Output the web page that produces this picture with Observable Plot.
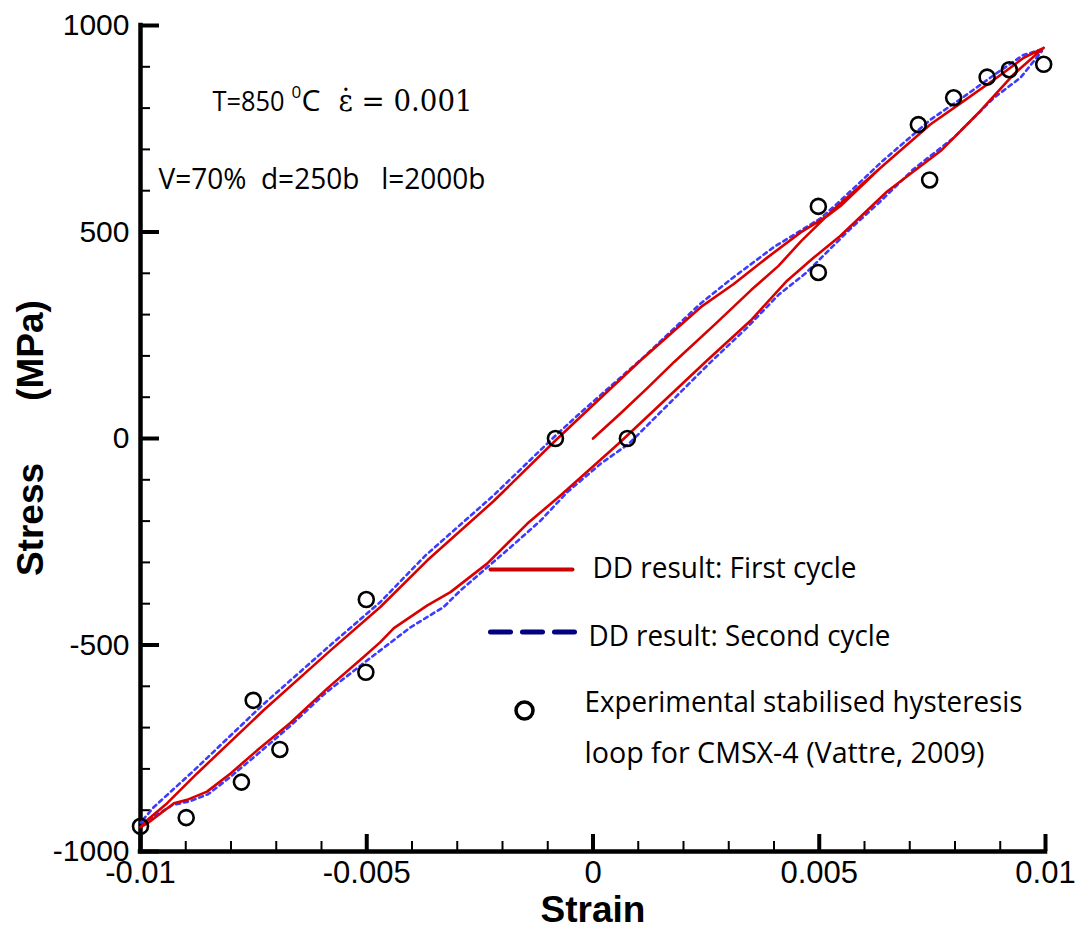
<!DOCTYPE html>
<html>
<head>
<meta charset="utf-8">
<script src="https://cdn.jsdelivr.net/npm/d3@7"></script>
<script src="https://cdn.jsdelivr.net/npm/@observablehq/plot@0.6"></script>
<style>
  html, body { margin: 0; padding: 0; background: #ffffff; }
</style>
</head>
<body>
<div id="chart"></div>
<script>
// ---------- ticks ----------
const xMajor = [-0.01, -0.005, 0, 0.005, 0.01];
const xTickLabels = ["-0.01", "-0.005", "0", "0.005", "0.01"];
const yMajor = [-1000, -500, 0, 500, 1000];
const yTickLabels = ["-1000", "-500", "0", "500", "1000"];
const xMinor = d3.range(-10, 11).map(i => i / 1000);
const yMinor = d3.range(-1000, 1001, 100);

// ---------- data: [strain, stress (MPa)] ----------
// First cycle (DD): initial loading from 0, unloading, reloading
const cycle1Loading = [
  [0, 0], [0.0006, 60], [0.0012, 122], [0.0018, 186], [0.0027, 277], [0.0035, 360],
  [0.0041, 418], [0.0046, 478], [0.0053, 553], [0.0064, 660], [0.00746, 761],
  [0.00819, 817], [0.00893, 874], [0.00952, 922], [0.00996, 946]
];
const cycle1Unloading = [
  [0.00996, 946], [0.00952, 922], [0.00893, 874], [0.00819, 817], [0.00746, 761],
  [0.0064, 660], [0.00547, 563], [0.00518, 539], [0.00459, 499], [0.00385, 438],
  [0.00311, 374], [0.00238, 318], [0.00105, 189], [-0.00028, 52], [-0.00083, -5],
  [-0.0022, -152], [-0.00366, -295], [-0.0047, -408], [-0.0058, -513], [-0.00728, -658],
  [-0.00875, -811], [-0.00941, -883], [-0.00985, -924], [-0.01, -941]
];
const cycle1Reloading = [
  [-0.01, -941], [-0.00985, -932], [-0.00926, -883], [-0.00897, -875], [-0.00853, -855],
  [-0.00801, -811], [-0.00742, -755], [-0.00669, -689], [-0.00587, -605], [-0.00507, -529],
  [-0.0047, -493], [-0.0044, -459], [-0.00366, -404], [-0.00315, -372], [-0.00234, -303],
  [-0.00145, -206], [-0.00072, -138], [0, -68], [0.00061, -8], [0.00252, 189],
  [0.00348, 285], [0.00429, 382], [0.00488, 438], [0.00547, 491], [0.0065, 598],
  [0.00768, 696], [0.00856, 793], [0.0093, 882], [0.00996, 946]
];
// Second cycle (DD)
const cycle2Unloading = [
  [0.00992, 942], [0.0095, 928], [0.0089, 883], [0.0082, 828], [0.00746, 772],
  [0.0064, 672], [0.00547, 576], [0.00503, 533], [0.00399, 463], [0.0031, 390],
  [0.00238, 327], [0.00112, 197], [-0.00028, 62], [-0.0008, 10], [-0.0022, -138],
  [-0.0037, -283], [-0.0047, -396], [-0.0058, -500], [-0.0073, -645], [-0.00882, -804],
  [-0.00971, -893], [-0.01, -930]
];
const cycle2Reloading = [
  [-0.01, -930], [-0.0098, -922], [-0.0093, -888], [-0.0089, -878], [-0.0085, -861],
  [-0.008, -818], [-0.0074, -763], [-0.0067, -697], [-0.0059, -615], [-0.005, -538],
  [-0.00403, -457], [-0.0033, -408], [-0.00293, -368], [-0.00182, -263], [-0.00116, -199],
  [-0.00057, -130], [0.00017, -61], [0.0008, -12], [0.0026, 185], [0.0034, 268],
  [0.0041, 348], [0.0047, 400], [0.00569, 508], [0.00635, 574], [0.00708, 652],
  [0.00797, 728], [0.00885, 824], [0.00945, 874], [0.00992, 938]
];
// Experimental stabilised hysteresis loop (Vattre, 2009)
const experimental = [
  [-0.01, -939], [-0.00899, -918], [-0.00777, -832], [-0.00751, -634], [-0.00692, -753],
  [-0.00501, -390], [-0.00502, -566], [-0.00083, 0], [0.00076, 0], [0.00498, 562],
  [0.00498, 402], [0.00719, 760], [0.00744, 626], [0.00797, 825], [0.00871, 875],
  [0.0092, 893], [0.00996, 906]
];

// ---------- texts ----------
const xLabel = "Strain";
const yLabelParts = ["Stress", "(MPa)"];
const legendLabels = ["DD result: First cycle", "DD result: Second cycle",
  "Experimental stabilised hysteresis", "loop for CMSX-4 (Vattre, 2009)"];
const noteTemp = "T=850";
const noteDeg = "0";
const noteC = "C";
const noteRate = "\u03B5\u0307 = 0.001";
const noteMicro = "V=70%\u00a0 d=250b\u00a0\u00a0 l=2000b";

const cycle1 = [...cycle1Loading, ...cycle1Unloading, ...cycle1Reloading];
const cycle2 = [...cycle2Unloading, ...cycle2Reloading];

const RED = "#d90000";
const BLUE = "#3c3cff";
const sansLabel = "Open Sans, Noto Sans, sans-serif";
const lineShape = { draw(context, l) { context.moveTo(0, 0); context.lineTo(0, -l); } };

const chart = Plot.plot({
  width: 1077,
  height: 929,
  marginLeft: 140,
  marginRight: 32,
  marginTop: 25,
  marginBottom: 78,
  style: { background: "#ffffff", color: "#000000", fontFamily: "Liberation Sans, Arial, sans-serif", overflow: "visible" },
  x: { domain: [-0.01, 0.01], axis: null },
  y: { domain: [-1000, 1000], axis: null },
  marks: [
    // minor & major ticks (inward)
    Plot.axisX(xMinor, { tickSize: -10, strokeWidth: 2, fill: "none", label: null }),
    Plot.axisX(xMajor, { tickSize: -17, strokeWidth: 4, fill: "none", label: null }),
    Plot.axisY(yMinor, { tickSize: -10, strokeWidth: 2, fill: "none", label: null }),
    Plot.axisY(yMajor, { tickSize: -19, strokeWidth: 4, fill: "none", label: null }),
    // tick labels
    Plot.axisX(xMajor, { tickSize: 0, tickPadding: 9, fontSize: 31, label: null,
      tickFormat: d => xTickLabels[xMajor.indexOf(d)] }),
    Plot.axisY(yMajor, { tickSize: 0, tickPadding: 11, fontSize: 30, label: null,
      tickFormat: d => yTickLabels[yMajor.indexOf(d)] }),
    // axis lines
    Plot.ruleX([xMajor[0]], { strokeWidth: 4.5, strokeLinecap: "square" }),
    Plot.ruleY([yMajor[0]], { strokeWidth: 4.5, strokeLinecap: "square" }),
    // curves
    Plot.line(cycle2, { x: d => d[0], y: d => d[1], stroke: BLUE, strokeWidth: 2.6, strokeDasharray: "4,4" }),
    Plot.line(cycle1, { x: d => d[0], y: d => d[1], stroke: RED, strokeWidth: 2.6, strokeLinejoin: "round" }),
    Plot.dot(experimental, { x: d => d[0], y: d => d[1], r: 7.5, stroke: "#000", strokeWidth: 2.6, fill: "none" }),
    // axis titles
    Plot.text([xLabel], { frameAnchor: "bottom", dy: 70, lineAnchor: "bottom", textAnchor: "middle",
      fontSize: 37, fontWeight: "bold", fontFamily: "Liberation Sans, Arial, sans-serif" }),
    Plot.text([yLabelParts[0]], { frameAnchor: "left", dx: -109, dy: 81, rotate: -90, lineAnchor: "middle", textAnchor: "middle",
      fontSize: 37, fontWeight: "bold", fontFamily: "Liberation Sans, Arial, sans-serif" }),
    Plot.text([yLabelParts[1]], { frameAnchor: "left", dx: -109, dy: -88, rotate: -90, lineAnchor: "middle", textAnchor: "middle",
      fontSize: 37, fontWeight: "bold", fontFamily: "Liberation Sans, Arial, sans-serif" }),
    // annotations
    Plot.text([noteTemp], { frameAnchor: "top-left", dx: 72, dy: 85, lineAnchor: "bottom", textAnchor: "start", fontSize: 27.5, fontFamily: sansLabel }),
    Plot.text([noteDeg], { frameAnchor: "top-left", dx: 151, dy: 72, lineAnchor: "bottom", textAnchor: "start", fontSize: 17, fontFamily: sansLabel }),
    Plot.text([noteC], { frameAnchor: "top-left", dx: 161, dy: 85, lineAnchor: "bottom", textAnchor: "start", fontSize: 29, fontFamily: sansLabel }),
    Plot.text([noteRate], { frameAnchor: "top-left", dx: 198, dy: 85, lineAnchor: "bottom", textAnchor: "start", fontSize: 29, fontFamily: "DejaVu Serif, serif" }),
    Plot.text([noteMicro], { frameAnchor: "top-left", dx: 18, dy: 163, lineAnchor: "bottom", textAnchor: "start", fontSize: 29, fontFamily: sansLabel }),
    // legend
    Plot.vector([0], { frameAnchor: "top-left", dx: 350, dy: 544, length: 82, rotate: 90, anchor: "start", shape: lineShape, stroke: "#cc0000", strokeWidth: 4 }),
    Plot.vector([0], { frameAnchor: "top-left", dx: 350, dy: 606.5, length: 84, rotate: 90, anchor: "start", shape: lineShape, stroke: "#000080", strokeWidth: 5, strokeDasharray: "20,12" }),
    Plot.dot([0], { frameAnchor: "top-left", dx: 384, dy: 685, r: 8.5, stroke: "#000", strokeWidth: 3.5, fill: "none" }),
    Plot.text([legendLabels[0]], { frameAnchor: "top-left", dx: 452, dy: 552, lineAnchor: "bottom", textAnchor: "start", fontSize: 29, fontFamily: sansLabel }),
    Plot.text([legendLabels[1]], { frameAnchor: "top-left", dx: 448, dy: 620, lineAnchor: "bottom", textAnchor: "start", fontSize: 29, fontFamily: sansLabel }),
    Plot.text([legendLabels[2]], { frameAnchor: "top-left", dx: 444, dy: 686, lineAnchor: "bottom", textAnchor: "start", fontSize: 29, fontFamily: sansLabel }),
    Plot.text([legendLabels[3]], { frameAnchor: "top-left", dx: 444, dy: 737, lineAnchor: "bottom", textAnchor: "start", fontSize: 29, fontFamily: sansLabel })
  ]
});

// fit text widths to the reference
const textWidths = new Map([
  [legendLabels[0], 264], [legendLabels[1], 302], [legendLabels[2], 438], [legendLabels[3], 400],
  [noteTemp, 72], [noteC, 19], [noteRate, 134], [noteMicro, 327]
]);
chart.querySelectorAll("text").forEach(t => {
  const w = textWidths.get(t.textContent);
  if (w) { t.setAttribute("textLength", w); t.setAttribute("lengthAdjust", "spacingAndGlyphs"); }
});

document.getElementById("chart").appendChild(chart);
</script>
</body>
</html>
